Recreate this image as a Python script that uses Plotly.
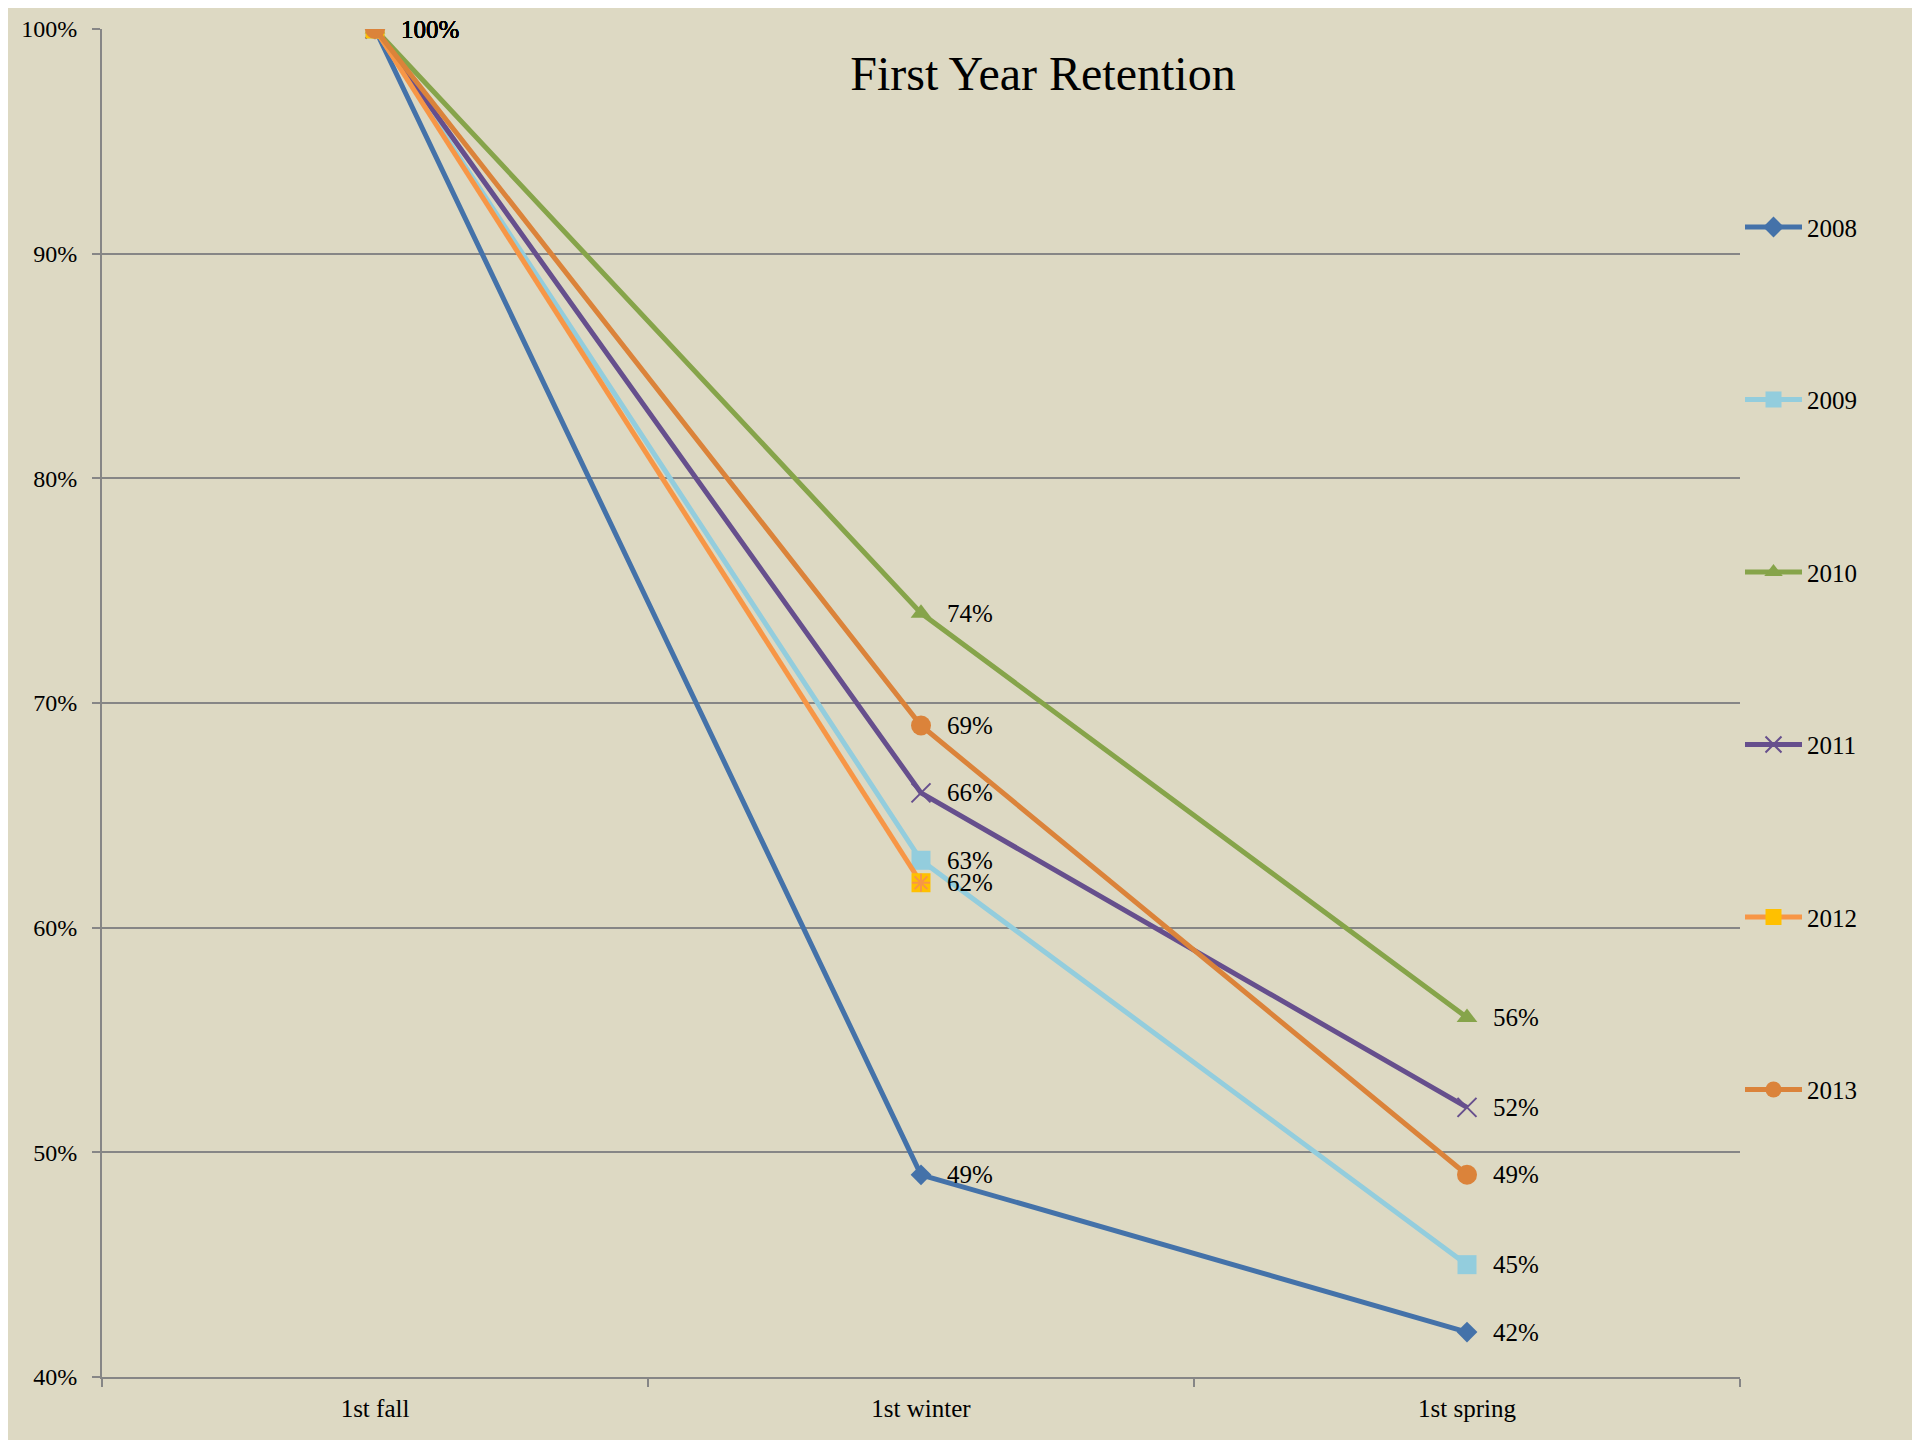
import plotly.graph_objects as go

categories = ["1st fall", "1st winter", "1st spring"]
years = ["2008", "2009", "2010", "2011", "2012", "2013"]
v2008 = [100, 49, 42]
v2009 = [100, 63, 45]
v2010 = [100, 74, 56]
v2011 = [100, 66, 52]
v2012 = [100, 62, None]
v2013 = [100, 69, 49]
series_values = [v2008, v2009, v2010, v2011, v2012, v2013]
y_ticks = [40, 50, 60, 70, 80, 90, 100]
y_tick_labels = ["40%", "50%", "60%", "70%", "80%", "90%", "100%"]

line_colors = ["#4472A9", "#93CDDD", "#86A44A", "#664F8D", "#F79646", "#DB833A"]
marker_colors = ["#4472A9", "#93CDDD", "#86A44A", "#664F8D", "#FFC000", "#DB833A"]
symbols = ["diamond", "square", "triangle-up", "x-thin-open", "square", "circle"]
sizes = [16, 19, 18, 19, 19, 20]

FONT = "Liberation Serif, Times New Roman, serif"
fig = go.Figure()

for i, (yr, vals) in enumerate(zip(years, series_values)):
    mk = dict(symbol=symbols[i], size=sizes[i], color=marker_colors[i])
    if symbols[i] == "x-thin-open":
        mk["line"] = dict(width=2, color=marker_colors[i])
    fig.add_trace(go.Scatter(
        x=categories, y=vals, name=yr, mode="lines+markers",
        line=dict(color=line_colors[i], width=5),
        marker=mk, legendgroup=yr,
    ))
    if yr == "2012":
        fig.add_trace(go.Scatter(
            x=categories, y=vals, mode="markers", showlegend=False,
            legendgroup=yr, hoverinfo="skip",
            marker=dict(symbol="asterisk-open", size=15, color="#F79646",
                        line=dict(width=2, color="#F79646")),
        ))
    for c, v in zip(categories, vals):
        if v is None:
            continue
        fig.add_annotation(x=c, y=v, text=f"{v}%", xanchor="left",
                           showarrow=False, xshift=24,
                           font=dict(family=FONT, size=25, color="#000"))

fig.update_layout(
    width=1920, height=1440,
    paper_bgcolor="#DDD9C3", plot_bgcolor="#DDD9C3",
    margin=dict(l=94, r=188, t=21, b=71),
    font=dict(family=FONT, size=24, color="#000"),
    title=dict(text="First Year Retention", x=1035 / 1920, xanchor="center",
               y=1 - 65 / 1440, yanchor="middle",
               font=dict(family=FONT, size=48, color="#000")),
    legend=dict(x=1.0, xanchor="left", y=0.870, yanchor="top",
                font=dict(family=FONT, size=25), tracegroupgap=137,
                itemwidth=57, bgcolor="rgba(0,0,0,0)"),
    showlegend=True,
)
fig.update_xaxes(type="category", range=[-0.5, 2.5], showgrid=False,
                 showline=True, linecolor="#868686", linewidth=2,
                 ticks="outside", tickson="boundaries", ticklen=8,
                 tickcolor="#868686", tickwidth=2, ticklabelstandoff=8,
                 automargin=False,
                 tickfont=dict(family=FONT, size=25))
fig.update_yaxes(range=[40, 100], tickvals=y_ticks, ticktext=y_tick_labels,
                 showgrid=True, gridcolor="#868686", gridwidth=1.5,
                 showline=True, linecolor="#868686", linewidth=2,
                 ticks="outside", ticklen=8, tickcolor="#868686", tickwidth=2,
                 ticklabelstandoff=10, zeroline=False, automargin=False,
                 tickfont=dict(family=FONT, size=24))

fig.write_html("out.html")
